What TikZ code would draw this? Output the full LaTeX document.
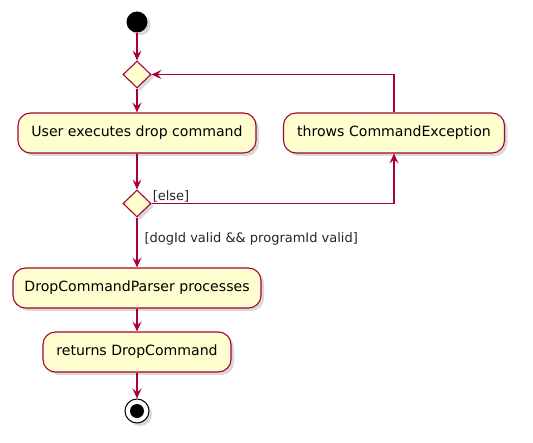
\documentclass[tikz,border=0pt]{standalone}
\usepackage{fontspec}
\setmainfont{DejaVu Sans}
\usetikzlibrary{arrows.meta,shapes.geometric,shadows}
\definecolor{umlfill}{HTML}{FEFECE}
\definecolor{umlline}{HTML}{A80036}
\tikzset{
  flow/.style={draw=umlline, line width=1.3pt, -{Stealth[length=10pt,width=9pt,inset=4pt]}},
  actbox/.style={draw=umlline, fill=umlfill, line width=1.1pt, rounded corners=12.5pt,
    minimum height=40pt, inner sep=0pt, font=\fontsize{14.1}{16}\selectfont,
    drop shadow={shadow xshift=3pt, shadow yshift=-3pt, opacity=0.3}},
  choice/.style={diamond, draw=umlline, fill=umlfill, line width=1.1pt,
    minimum width=28pt, minimum height=27pt, inner sep=0pt,
    drop shadow={shadow xshift=3pt, shadow yshift=-3pt, opacity=0.3}},
  guard/.style={font=\fontsize{13}{15}\selectfont, text=black!85}
}
\begin{document}
\begin{tikzpicture}[x=1pt, y=-1pt]
\useasboundingbox (0,0) rectangle (533,443);
% start and end
\node[circle, fill=black, minimum size=21pt, inner sep=0pt,
  drop shadow={shadow xshift=3pt, shadow yshift=-3pt, opacity=0.3}] (start) at (137,22) {};
\node[circle, draw=black, fill=white, line width=1pt, minimum size=24pt, inner sep=0pt,
  drop shadow={shadow xshift=3pt, shadow yshift=-3pt, opacity=0.3}] (stop) at (137,411) {};
\node[circle, fill=black, minimum size=14pt, inner sep=0pt] (stopdot) at (stop) {};
% decisions
\node[choice] (loop) at (137,74.5) {};
\node[choice] (check) at (137,203.5) {};
% actions
\node[actbox, minimum width=238pt] (execute) at (137,133) {User executes drop command};
\node[actbox, minimum width=221pt] (throws) at (394,133) {throws CommandException};
\node[actbox, minimum width=248pt] (parser) at (137,288) {DropCommandParser processes};
\node[actbox, minimum width=188pt] (returns) at (137,352) {returns DropCommand};
% connectors
\draw[flow] (start) -- (loop);
\draw[flow] (loop) -- (execute);
\draw[flow] (execute) -- (check);
\draw[flow] (check) -- (parser);
\draw[flow] (parser) -- (returns);
\draw[flow] (returns) -- (stop);
\draw[flow] (check.east) -| (throws.south);
\draw[flow] (throws.north) |- (loop.east);
% guards
\node[guard, anchor=south west, inner sep=1pt] (elselbl) at (check.east) {[else]};
\node[guard, anchor=west] (validlbl) at (141,239) {[dogId valid \&\& programId valid]};
\end{tikzpicture}
\end{document}
